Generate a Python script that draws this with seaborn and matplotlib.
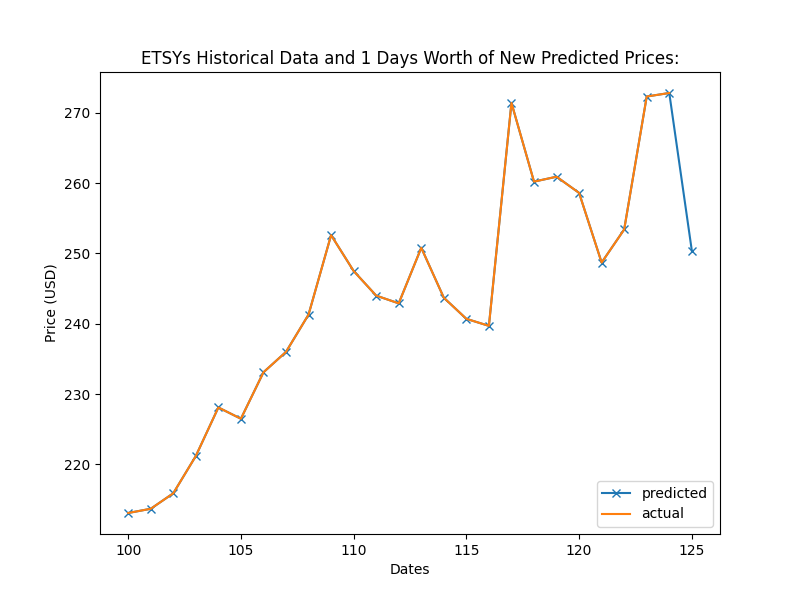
import matplotlib
matplotlib.use("Agg")
import matplotlib.pyplot as plt
import seaborn as sns

# ── Data ──────────────────────────────────────────────────────
dates_pred = list(range(100, 126))
predicted = [213.1, 213.7, 215.9, 221.2, 228.1, 226.5, 233.1, 236.0, 241.3,
             252.6, 247.5, 244.0, 242.9, 250.8, 243.7, 240.7, 239.7, 271.4,
             260.2, 260.9, 258.6, 248.7, 253.4, 272.3, 272.8, 250.4]
dates_actual = list(range(100, 125))
actual = predicted[:25]

fig, ax = plt.subplots(figsize=(8, 6), dpi=100)

sns.lineplot(x=dates_pred, y=predicted, ax=ax, color="#1f77b4", marker="x",
             markeredgecolor="#1f77b4", markeredgewidth=1.0, markersize=6,
             label="predicted")
sns.lineplot(x=dates_actual, y=actual, ax=ax, color="#ff7f0e",
             label="actual")

ax.set_title("ETSYs Historical Data and 1 Days Worth of New Predicted Prices:")
ax.set_xlabel("Dates")
ax.set_ylabel("Price (USD)")
ax.legend(loc="lower right")

fig.savefig("out.png", dpi=100)
